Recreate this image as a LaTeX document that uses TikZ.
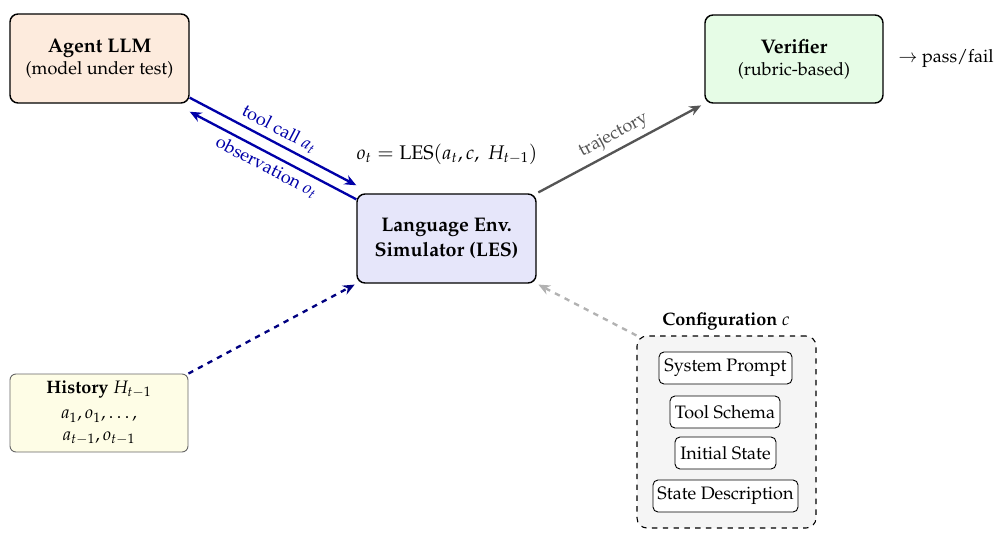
\documentclass[tikz,border=0pt]{standalone}
\usepackage[T1]{fontenc}
\usepackage{mathpazo}
\usetikzlibrary{arrows.meta,calc}
\def\u{0.5556pt}
\definecolor{agentc}{HTML}{FDEBDD}
\definecolor{verc}{HTML}{E6FCE6}
\definecolor{lesc}{HTML}{E6E6FA}
\definecolor{histc}{HTML}{FEFDE6}
\definecolor{confc}{HTML}{F5F5F5}
\definecolor{arrblue}{HTML}{0000A8}
\definecolor{navyc}{HTML}{000080}
\definecolor{trajc}{HTML}{555555}
\newcommand{\bigfs}{\fontsize{10.95pt}{13.6pt}\selectfont}
\begin{document}
\begin{tikzpicture}[x=\u,y=-\u,
  mainbox/.style={draw=black, line width=0.8pt, rounded corners=8*\u, align=center, inner sep=0pt},
  smallbox/.style={draw=black, line width=0.5pt, rounded corners=5*\u, fill=white, align=center, inner sep=0pt, minimum height=32*\u},
  bluearr/.style={draw=arrblue, line width=1.3pt, -{Stealth[length=6.5pt,width=5.5pt]}},
  lbl/.style={font=\normalsize, inner sep=2.5pt}
]
\useasboundingbox (0,0) rectangle (1004,533);
% main nodes
\node[mainbox, fill=agentc, minimum width=179*\u, minimum height=89*\u] (agent) at (99.5,58.5)
  {{\bigfs\textbf{Agent LLM}}\\(model under test)};
\node[mainbox, fill=verc, minimum width=178*\u, minimum height=88*\u] (ver) at (794,59)
  {{\bigfs\textbf{Verifier}}\\(rubric-based)};
\node[mainbox, fill=lesc, minimum width=179*\u, minimum height=89*\u, font=\bigfs] (les) at (446.5,238.5)
  {\textbf{Language Env.}\\\textbf{Simulator (LES)}};
\node[draw=black!60, line width=0.5pt, rounded corners=6*\u, fill=histc, align=center, inner sep=0pt,
  minimum width=178*\u, minimum height=78*\u] (hist) at (99,413)
  {\textbf{History} $H_{t-1}$\\[2pt] $a_1, o_1, \dots,$\\ $a_{t-1}, o_{t-1}$};
% configuration
\node[draw=black, dashed, line width=0.6pt, rounded corners=10*\u, fill=confc, inner sep=0pt,
  minimum width=179*\u, minimum height=192*\u] (conf) at (726.5,432) {};
\node (conftitle) at (726,321) {\textbf{Configuration} $c$};
\node[smallbox, minimum width=133*\u] (sp) at (725.5,368) {System Prompt};
\node[smallbox, minimum width=110*\u] (ts) at (725,412) {Tool Schema};
\node[smallbox, minimum width=101*\u] (is) at (725.5,453) {Initial State};
\node[smallbox, minimum width=145*\u] (sd) at (725.5,496) {State Description};
% texts
\node[font=\bigfs] (formula) at (447,154) {$o_t = \mathrm{LES}(a_t, c,\ H_{t-1})$};
\node (pf) at (946,59) {$\rightarrow$ pass/fail};
% arrows
\draw[bluearr] ($(agent.south east)+(0,-6)$) -- node[lbl, above, sloped, text=arrblue] {tool call $a_t$} ($(les.north west)+(0,-8)$);
\draw[bluearr] ($(les.north west)+(0,6)$) -- node[lbl, below, sloped, text=arrblue] {observation $o_t$} ($(agent.south east)+(0,8)$);
\draw[draw=trajc, line width=1.3pt, -{Stealth[length=6.5pt,width=5.5pt]}, shorten <=1pt, shorten >=2pt]
  (les.north east) -- node[lbl, above, sloped, text=trajc] {trajectory} (ver.south west);
\draw[draw=navyc, line width=1.3pt, dashed, -{Stealth[length=6.5pt,width=5.5pt]}, shorten >=1pt]
  (hist.north east) -- (les.south west);
\draw[draw=black!30, line width=1.3pt, dashed, -{Stealth[length=6.5pt,width=5.5pt]}, shorten >=1pt]
  (conf.north west) -- (les.south east);
\end{tikzpicture}
\end{document}
